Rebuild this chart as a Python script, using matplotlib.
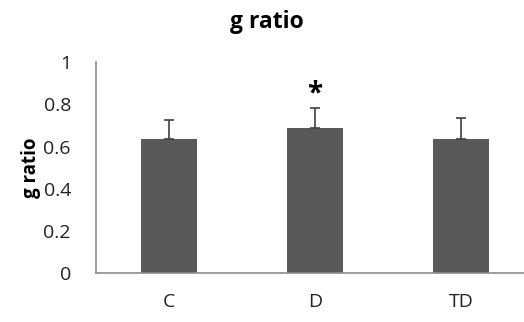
import matplotlib
matplotlib.use('Agg')
import matplotlib.pyplot as plt

# data
groups = ['C', 'D', 'TD']
means = [0.635, 0.69, 0.635]
errs = [0.09, 0.092, 0.098]
stars = ['', '*', '']

plt.rcParams['font.family'] = ['Open Sans', 'DejaVu Sans']

fig = plt.figure(figsize=(5.24, 3.22), dpi=100)
ax = fig.add_axes([96/524, 1-273.3/322, (524-96)/524, (273.3-62)/322])

x = range(len(groups))
ax.bar(x, means, width=0.39, color='#595959', zorder=2)
ax.errorbar(x, means, yerr=[[0]*len(errs), errs], fmt='none', ecolor='#404040',
            elinewidth=1.2, capsize=3.5, capthick=1.2, zorder=3)
for i, s in enumerate(stars):
    if s:
        ax.text(i, means[i] + errs[i] + 0.065, s, ha='center', va='center',
                fontsize=20, fontweight='bold')

ax.set_xlim(-0.5, (524-96)/146 - 0.5)
ax.set_ylim(0, 1)
ax.set_yticks([0, 0.2, 0.4, 0.6, 0.8, 1])
ax.set_yticklabels(['0', '0.2', '0.4', '0.6', '0.8', '1'])
ax.set_xticks(list(x))
ax.set_xticklabels(groups)
ax.tick_params(axis='y', length=0, pad=18, labelsize=14, colors='#222222')
ax.tick_params(axis='x', length=0, pad=14, labelsize=14, colors='#222222')
for sp in ['top', 'right']:
    ax.spines[sp].set_visible(False)
for sp in ['left', 'bottom']:
    ax.spines[sp].set_color('#8c8c8c')
    ax.spines[sp].set_linewidth(1.2)

ax.set_ylabel('g ratio', fontsize=13.5, fontweight='bold', labelpad=2)
fig.text(267/524, 1-22/322, 'g ratio', ha='center', va='center',
         fontsize=16.5, fontweight='bold')

fig.savefig('out.png', dpi=100)
